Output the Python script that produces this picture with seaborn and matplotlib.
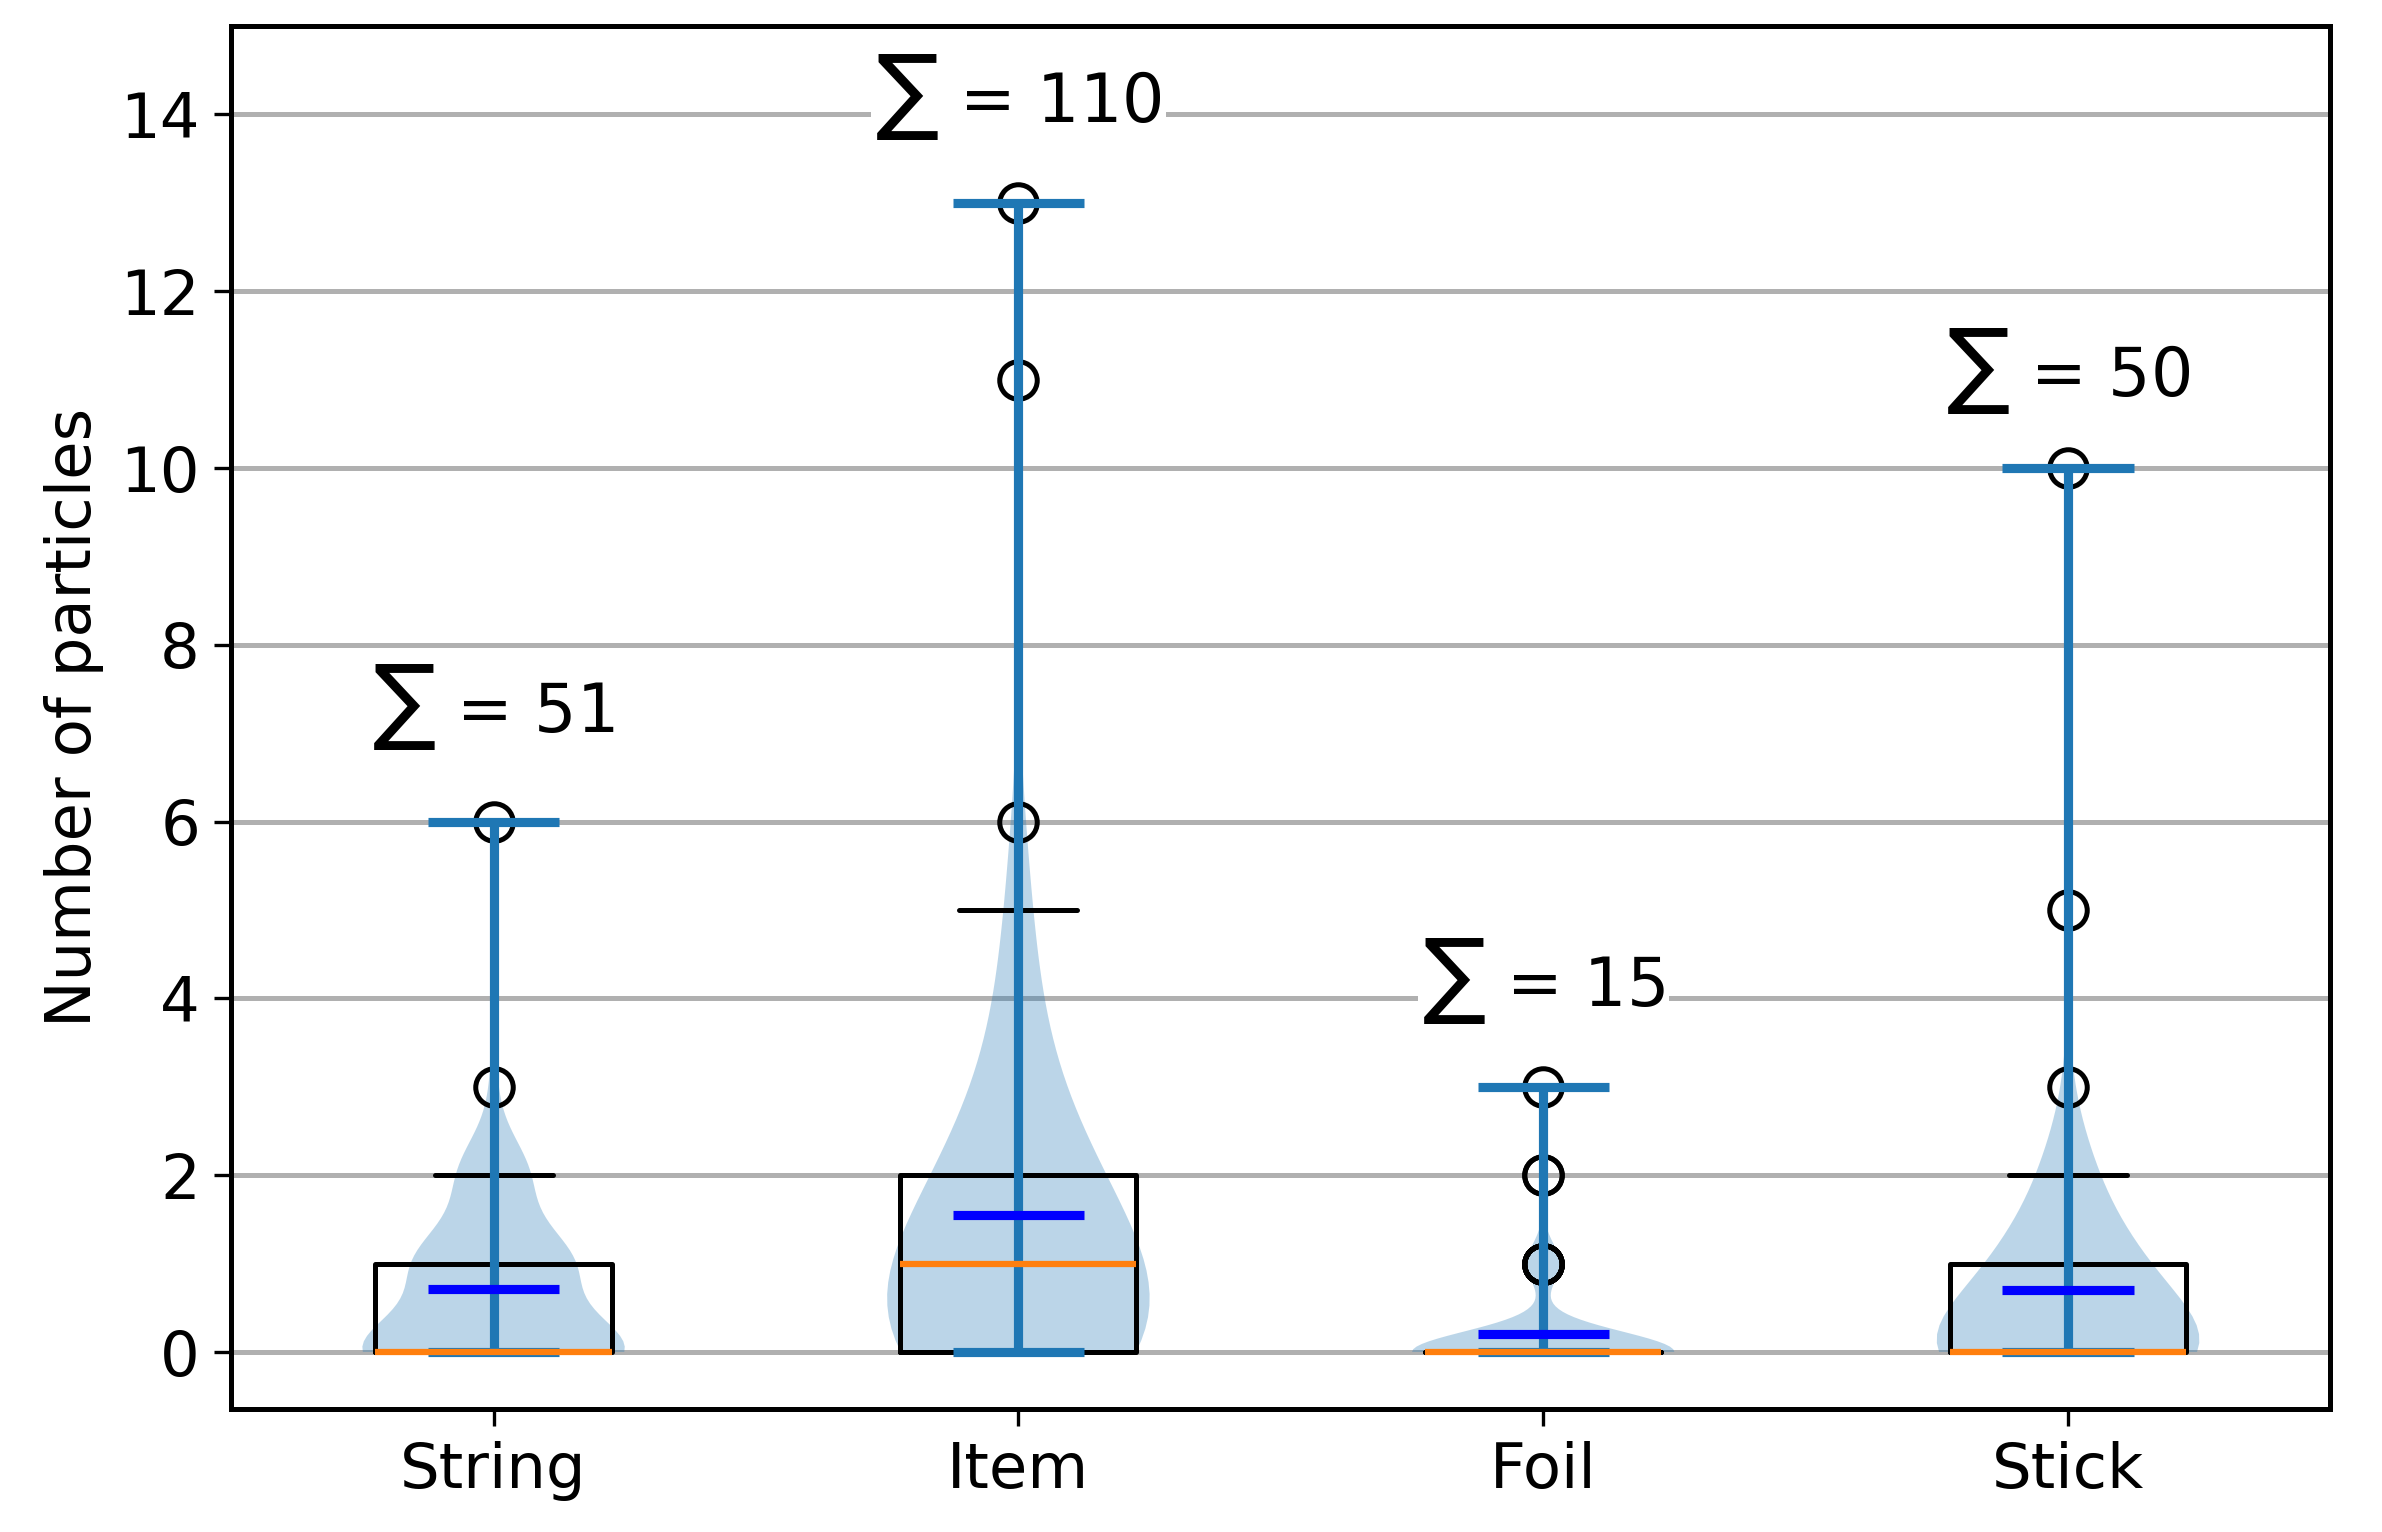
import numpy as np
import pandas as pd
import matplotlib
matplotlib.use("Agg")
import matplotlib.pyplot as plt
import seaborn as sns

categories = ["String", "Item", "Foil", "Stick"]
# value levels and how many samples take each value
string_vals = [0, 1, 2, 3, 6];            string_cnt = [38, 22, 10, 1, 1]
item_vals = [0, 1, 2, 3, 4, 5, 6, 11, 13]; item_cnt = [27, 19, 12, 5, 3, 2, 1, 1, 1]
foil_vals = [0, 1, 2, 3];                 foil_cnt = [64, 8, 2, 1]
stick_vals = [0, 1, 2, 3, 5, 10];         stick_cnt = [43, 18, 7, 1, 1, 1]
sums = [51, 110, 15, 50]
label_y = [7.3, 14.2, 4.2, 11.1]

vals = [string_vals, item_vals, foil_vals, stick_vals]
cnts = [string_cnt, item_cnt, foil_cnt, stick_cnt]
data = [np.repeat(v, c).astype(float) for v, c in zip(vals, cnts)]
df = pd.DataFrame({"cat": np.concatenate([[c]*len(d) for c, d in zip(categories, data)]),
                   "n": np.concatenate(data)})

sns.set_style("white")
plt.rcParams['font.family'] = ['DejaVu Sans']
plt.rcParams['text.color'] = 'black'
plt.rcParams['axes.labelcolor'] = 'black'
plt.rcParams['xtick.color'] = 'black'
plt.rcParams['ytick.color'] = 'black'
fig, ax = plt.subplots(figsize=(7.943, 5.107), dpi=300)
ax.yaxis.grid(True, color="#b0b0b0", linewidth=1.2, zorder=0)
ax.set_axisbelow(True)

sns.violinplot(data=df, x="cat", y="n", order=categories, inner=None, cut=0,
               density_norm="width", width=0.5, bw_method="scott",
               color="#1f77b4", linewidth=0, alpha=0.3, saturation=1, ax=ax)
for c in ax.collections:
    c.set_alpha(0.3); c.set_edgecolor("none")

pos = np.arange(len(categories))
mins = [d.min() for d in data]; maxs = [d.max() for d in data]; means = [d.mean() for d in data]
ax.vlines(pos, mins, maxs, color="#1f77b4", linewidth=2.2, zorder=4)
ax.hlines(mins, pos-0.125, pos+0.125, color="#1f77b4", linewidth=2.2, zorder=4)
ax.hlines(maxs, pos-0.125, pos+0.125, color="#1f77b4", linewidth=2.2, zorder=4)
ax.hlines(means, pos-0.125, pos+0.125, color="blue", linewidth=2.2, zorder=5)
ax.boxplot(data, positions=pos, widths=0.45,
           boxprops=dict(color="black", linewidth=1.2),
           whiskerprops=dict(color="black", linewidth=1.2),
           capprops=dict(color="black", linewidth=1.2),
           medianprops=dict(color="#ff7f0e", linewidth=1.5, zorder=6),
           flierprops=dict(marker="o", markerfacecolor="none", markeredgecolor="black",
                           markersize=9, markeredgewidth=1.2), zorder=3)

for p, s, y in zip(pos, sums, label_y):
    ax.text(p, y, r"$\sum$ = %d" % s, ha="center", va="center", fontsize=16,
            bbox=dict(facecolor="white", edgecolor="none", pad=1), zorder=7)

ax.set_xlim(-0.5, 3.5)
ax.set_ylim(-0.65, 15)
ax.set_yticks(range(0, 15, 2))
ax.set_xticks(pos)
ax.set_xticklabels(categories)
ax.set_xlabel("")
ax.set_ylabel("Number of particles", fontsize=15)
ax.tick_params(labelsize=15, left=True, bottom=True, length=4)
for s in ax.spines.values():
    s.set_color("black"); s.set_linewidth(1.2)
fig.subplots_adjust(left=0.097, right=0.978, top=0.983, bottom=0.074 + 0.006)
fig.savefig("out.png", dpi=300)
